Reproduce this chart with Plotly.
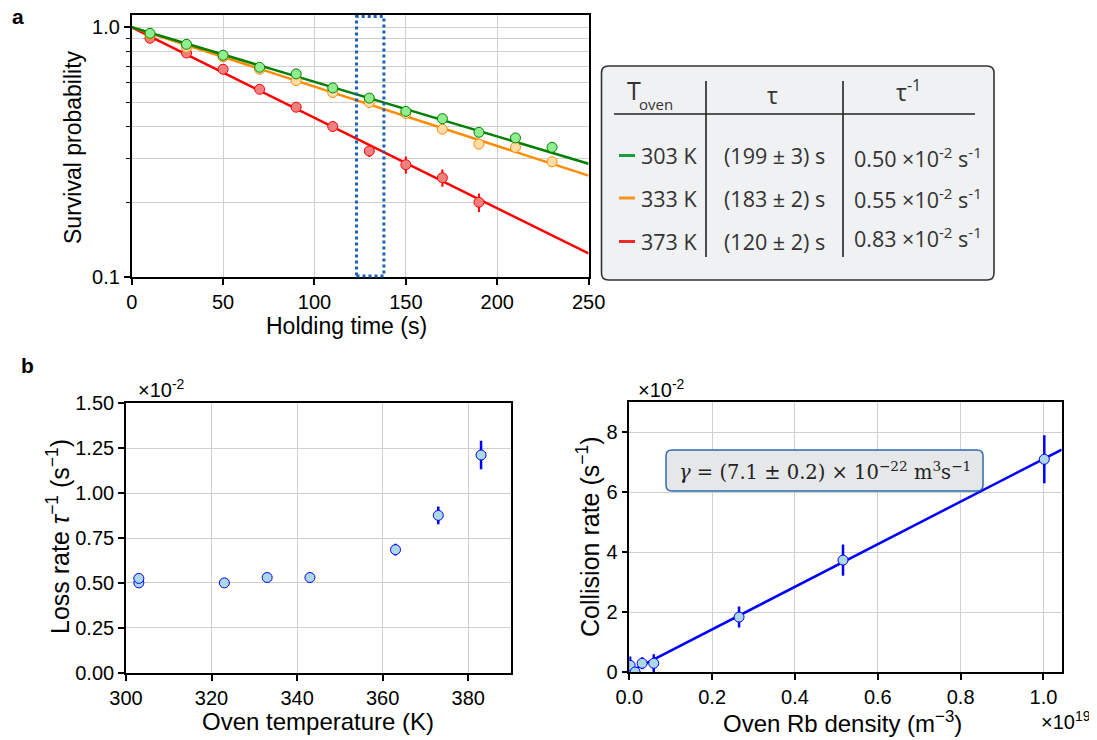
import math
import plotly.graph_objects as go

W, H = 1097, 740
OFF = 8  # page body margin compensation

# ---------------- data ----------------
hold_t = [10, 30, 50, 70, 90, 110, 130, 150, 170, 190, 210, 230]
surv_303 = [0.946, 0.855, 0.773, 0.692, 0.651, 0.572, 0.521, 0.461, 0.431, 0.380, 0.361, 0.331]
err_303 = [0.005, 0.005, 0.005, 0.005, 0.006, 0.006, 0.006, 0.006, 0.006, 0.006, 0.007, 0.008]
surv_333 = [0.935, 0.832, 0.763, 0.679, 0.612, 0.548, 0.500, 0.452, 0.391, 0.341, 0.331, 0.290]
err_333 = [0.005, 0.005, 0.005, 0.005, 0.006, 0.006, 0.006, 0.006, 0.006, 0.008, 0.009, 0.012]
hold_t_373 = [10, 30, 50, 70, 90, 110, 130, 150, 170, 190]
surv_373 = [0.904, 0.789, 0.679, 0.565, 0.479, 0.401, 0.320, 0.282, 0.250, 0.1995]
err_373 = [0.005, 0.005, 0.006, 0.006, 0.010, 0.018, 0.017, 0.022, 0.020, 0.017]
tau_303, tau_333, tau_373 = 199, 183, 120
highlight_t = [123, 138]

temp_K = [303, 303, 323, 333, 343, 363, 373, 383]
loss_rate = [0.500, 0.525, 0.500, 0.530, 0.530, 0.685, 0.876, 1.212]
loss_err = [0.010, 0.010, 0.010, 0.012, 0.015, 0.033, 0.050, 0.079]

rb_density = [0.000, 0.002, 0.014, 0.031, 0.059, 0.265, 0.516, 1.002]
coll_rate = [0.00, 0.22, 0.00, 0.29, 0.29, 1.83, 3.73, 7.09]
coll_err = [0.15, 0.30, 0.10, 0.20, 0.30, 0.35, 0.52, 0.80]
gamma_slope = 7.1
density_max = 1.044

table_temps = ["303 K", "333 K", "373 K"]
table_tau = ["(199 ± 3) s", "(183 ± 2) s", "(120 ± 2) s"]
table_rate = ["0.50", "0.55", "0.83"]

# ---------------- helpers ----------------
def px(x):
    return (x - OFF) / W

def py(y):
    return 1 - (y - OFF) / H

FONT = "Liberation Sans, Arial, sans-serif"
TFONT = "Open Sans, sans-serif"

c_green, f_green = "#008000", "#90ee90"
c_orange, f_orange = "#ff8c00", "#ffdca8"
c_red, f_red = "#ff0000", "#f08080"
c_blue, f_blue = "#0000ff", "#add8e6"

fig = go.Figure()

series = [
    (hold_t_373, surv_373, err_373, tau_373, c_red, f_red),
    (hold_t, surv_333, err_333, tau_333, c_orange, f_orange),
    (hold_t, surv_303, err_303, tau_303, c_green, f_green),
]
fit_t = [i * 2.5 for i in range(101)]
for t, s, e, tau, c, f in series:
    fig.add_trace(go.Scatter(x=fit_t, y=[math.exp(-v / tau) for v in fit_t], mode="lines",
                             line=dict(color=c, width=2.5), xaxis="x", yaxis="y", showlegend=False,
                             hoverinfo="skip"))
for t, s, e, tau, c, f in series:
    fig.add_trace(go.Scatter(x=t, y=s, mode="markers",
                             marker=dict(size=10, color=f, line=dict(color=c, width=1)),
                             error_y=dict(type="data", array=e, color=c, thickness=2, width=0),
                             xaxis="x", yaxis="y", showlegend=False))

# panel b left
fig.add_trace(go.Scatter(x=temp_K, y=loss_rate, mode="markers",
                         marker=dict(size=10, color=f_blue, line=dict(color=c_blue, width=1)),
                         error_y=dict(type="data", array=loss_err, color=c_blue, thickness=2.5, width=0),
                         xaxis="x2", yaxis="y2", showlegend=False))
# panel b right
fig.add_trace(go.Scatter(x=[0, density_max], y=[0, gamma_slope * density_max], mode="lines",
                         line=dict(color=c_blue, width=2.5), xaxis="x3", yaxis="y3",
                         showlegend=False, hoverinfo="skip"))
fig.add_trace(go.Scatter(x=rb_density, y=coll_rate, mode="markers",
                         marker=dict(size=10, color=f_blue, line=dict(color=c_blue, width=1)),
                         error_y=dict(type="data", array=coll_err, color=c_blue, thickness=2.5, width=0),
                         xaxis="x3", yaxis="y3", showlegend=False))

grid = "#cfcfcf"
axis_common = dict(showline=True, linecolor="black", linewidth=1.6, mirror=True,
                   ticks="outside", ticklen=6, tickwidth=1.5, tickcolor="black",
                   showgrid=True, gridcolor=grid, gridwidth=1, zeroline=False, automargin=False,
                   tickfont=dict(family=FONT, size=20, color="black"))

fig.update_layout(
    template="none",
    width=W, height=H, margin=dict(l=0, r=0, t=0, b=0, autoexpand=False),
    paper_bgcolor="white", plot_bgcolor="white", showlegend=False,
    xaxis=dict(domain=[px(131.7), px(588.6)], anchor="y", range=[0, 250],
               tickvals=[0, 50, 100, 150, 200, 250], **axis_common),
    yaxis=dict(domain=[py(277.3), py(15.3)], anchor="x", type="log", range=[-1, 0.048],
               tickvals=[0.1, 1.0], ticktext=["0.1", "1.0"],
               minor=dict(tickvals=[0.2, 0.3, 0.4, 0.5, 0.6, 0.7, 0.8, 0.9], ticks="outside",
                          ticklen=4, tickwidth=1.2, tickcolor="black", showgrid=True,
                          gridcolor=grid, gridwidth=1),
               **axis_common),
    xaxis2=dict(domain=[px(126), px(511)], anchor="y2", range=[300, 390],
                tickvals=[300, 320, 340, 360, 380], **axis_common),
    yaxis2=dict(domain=[py(672.7), py(403.3)], anchor="x2", range=[0, 1.5],
                tickvals=[0, 0.25, 0.5, 0.75, 1.0, 1.25, 1.5],
                ticktext=["0.00", "0.25", "0.50", "0.75", "1.00", "1.25", "1.50"], **axis_common),
    xaxis3=dict(domain=[px(629.3), px(1061.7)], anchor="y3", range=[0, density_max],
                tickvals=[0, 0.2, 0.4, 0.6, 0.8, 1.0],
                ticktext=["0.0", "0.2", "0.4", "0.6", "0.8", "1.0"], **axis_common),
    yaxis3=dict(domain=[py(672), py(402)], anchor="x3", range=[0, 9],
                tickvals=[0, 2, 4, 6, 8], **axis_common),
)

ann = []
def text(x, y, s, size=20, family=FONT, color="black", angle=0, xanchor="center", yanchor="middle"):
    ann.append(dict(x=px(x), y=py(y), xref="paper", yref="paper", text=s, showarrow=False,
                    font=dict(family=family, size=size, color=color), textangle=angle,
                    xanchor=xanchor, yanchor=yanchor))

# panel labels
text(18, 16, "<b>a</b>", size=21)
text(27, 365, "<b>b</b>", size=21)
# axis titles
text(73, 147, "Survival probability", size=23, angle=-90)
text(346, 326, "Holding time (s)", size=23)
text(58, 537, "Loss rate <i>τ</i><sup>−1</sup> (s<sup>−1</sup>)", size=25, angle=-90)
text(318, 721, "Oven temperature (K)", size=24)
text(588, 537, "Collision rate (s<sup>−1</sup>)", size=25, angle=-90)
text(842, 722, "Oven Rb density (m<sup>−3</sup>)", size=24)
# offset texts
text(136, 388, "×10<sup>-2</sup>", size=20, xanchor="left")
text(636, 388, "×10<sup>-2</sup>", size=20, xanchor="left")
text(1039, 720, "×10<sup>19</sup>", size=20, xanchor="left")

shapes = []
def rounded(x0, y0, x1, y1, r, line, fill, width):
    path = (f"M {px(x0+r)} {py(y0)} L {px(x1-r)} {py(y0)} Q {px(x1)} {py(y0)} {px(x1)} {py(y0+r)} "
            f"L {px(x1)} {py(y1-r)} Q {px(x1)} {py(y1)} {px(x1-r)} {py(y1)} "
            f"L {px(x0+r)} {py(y1)} Q {px(x0)} {py(y1)} {px(x0)} {py(y1-r)} "
            f"L {px(x0)} {py(y0+r)} Q {px(x0)} {py(y0)} {px(x0+r)} {py(y0)} Z")
    shapes.append(dict(type="path", path=path, xref="paper", yref="paper",
                       line=dict(color=line, width=width), fillcolor=fill, layer="above"))

def seg(x0, y0, x1, y1, color, width):
    shapes.append(dict(type="line", x0=px(x0), y0=py(y0), x1=px(x1), y1=py(y1),
                       xref="paper", yref="paper", line=dict(color=color, width=width), layer="above"))

# highlight rectangle
shapes.append(dict(type="rect", xref="x", yref="y domain", x0=highlight_t[0], x1=highlight_t[1],
                   y0=0.005, y1=0.995, line=dict(color="#1f5fb4", width=3, dash="dot"),
                   fillcolor="rgba(0,0,0,0)", layer="above"))

# table box
rounded(601.5, 66, 994, 280, 7, "#333333", "#f0f1f2", 1.6)
seg(614, 114, 975, 114, "#222222", 1.6)
seg(706, 81, 706, 257, "#222222", 1.6)
seg(843, 81, 843, 257, "#222222", 1.6)
TC = "#333333"
text(634, 90, "T", size=25, family=TFONT, color=TC)
text(656, 104, "oven", size=15, family=TFONT, color=TC)
text(772, 95, "τ", size=23, family=TFONT, color=TC)
text(908, 91, "τ<sup>-1</sup>", size=23, family=TFONT, color=TC)
row_y = [155.5, 198, 241.5]
row_y3 = [157, 199, 237]
line_cols = ["#1f9a3f", "#f7941d", "#ee2a2a"]
for i in range(3):
    seg(619, row_y[i], 635, row_y[i], line_cols[i], 3)
    text(639, row_y[i], table_temps[i], size=21.5, family=TFONT, color=TC, xanchor="left")
    text(774.5, row_y[i], table_tau[i], size=21.5, family=TFONT, color=TC)
    text(852, row_y3[i], table_rate[i] + " ×10<sup>-2</sup> s<sup>-1</sup>", size=21.5,
         family=TFONT, color=TC, xanchor="left")

# gamma box
rounded(666, 450, 983, 491, 6, "#2e6aad", "#e6e7e9", 1.5)
text(825, 470.5, "<i>γ</i> = (7.1 ± 0.2) × 10<sup>−22</sup> m<sup>3</sup>s<sup>−1</sup>", size=19.5,
     family="DejaVu Serif, serif", color="#222222")

fig.update_layout(annotations=ann, shapes=shapes)
fig.write_html("out.html")
